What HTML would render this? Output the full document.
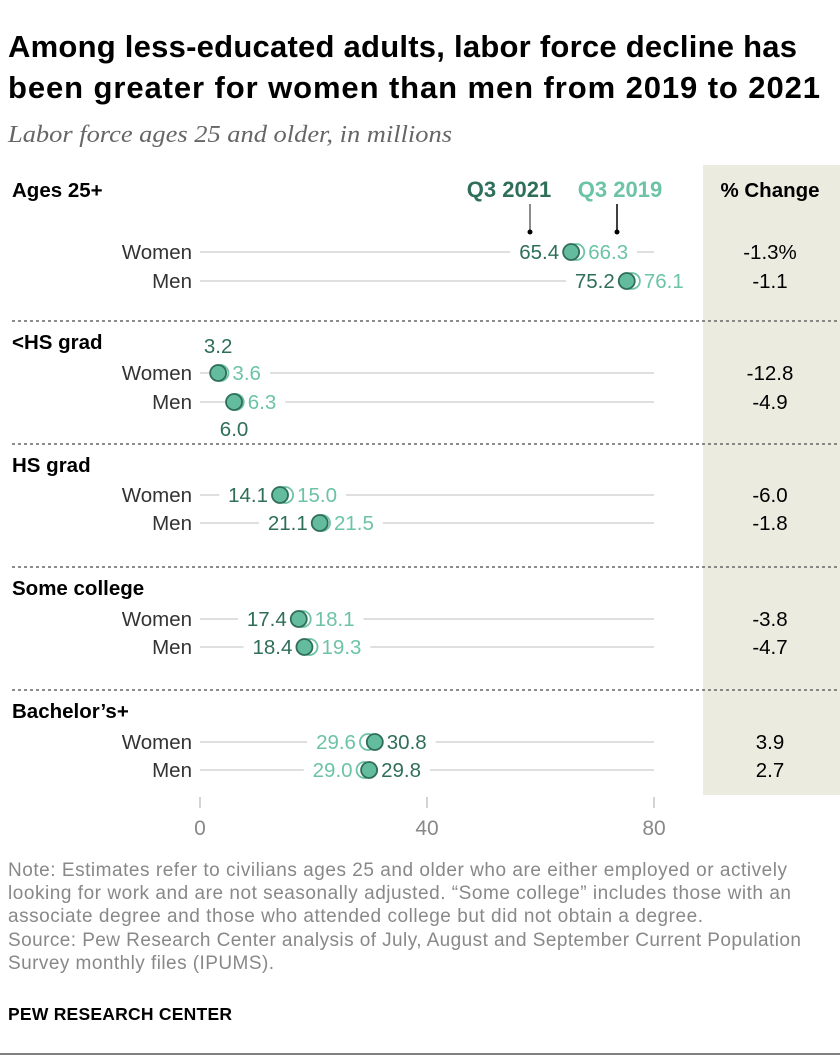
<!DOCTYPE html>
<html><head><meta charset="utf-8"><style>
body{margin:0;background:#fff;font-family:"Liberation Sans",Arial,sans-serif;}
#c{position:relative;width:840px;height:1058px;overflow:hidden}
</style></head><body>
<div id="c">
<svg id="s" width="840" height="1058" font-family="Liberation Sans, Arial, sans-serif">
<text x="8" y="57" font-size="31" font-weight="bold" fill="#000" textLength="789">Among less-educated adults, labor force decline has</text>
<text x="8" y="98" font-size="31" font-weight="bold" fill="#000" textLength="812">been greater for women than men from 2019 to 2021</text>
<text x="8" y="142" font-size="24" font-style="italic" font-family="Liberation Serif, serif" fill="#666" textLength="444" lengthAdjust="spacingAndGlyphs">Labor force ages 25 and older, in millions</text>
<rect x="703" y="165" width="137" height="630" fill="#ecebe0"/>
<text x="770" y="197" font-size="20.5" font-weight="bold" text-anchor="middle" fill="#000">% Change</text>
<text x="509" y="197" font-size="22" font-weight="bold" text-anchor="middle" fill="#2e6e5a">Q3 2021</text>
<text x="620" y="197" font-size="22" font-weight="bold" text-anchor="middle" fill="#6cc3a6">Q3 2019</text>
<line x1="530" y1="204" x2="530" y2="231" stroke="#666" stroke-width="1.5"/>
<circle cx="530" cy="232" r="2.5" fill="#000"/>
<line x1="617" y1="204" x2="617" y2="231" stroke="#000" stroke-width="1.5"/>
<circle cx="617" cy="232" r="2.5" fill="#000"/>
<g id="g"></g>
<text x="8" y="876" font-size="19" fill="#888" textLength="779">Note: Estimates refer to civilians ages 25 and older who are either employed or actively</text>
<text x="8" y="899" font-size="19" fill="#888" textLength="783">looking for work and are not seasonally adjusted. “Some college” includes those with an</text>
<text x="8" y="922" font-size="19" fill="#888" textLength="695">associate degree and those who attended college but did not obtain a degree.</text>
<text x="8" y="946" font-size="19" fill="#888" textLength="793">Source: Pew Research Center analysis of July, August and September Current Population</text>
<text x="8" y="969" font-size="19" fill="#888" textLength="266">Survey monthly files (IPUMS).</text>
<text x="8" y="1020" font-size="17.5" font-weight="bold" fill="#000" textLength="224">PEW RESEARCH CENTER</text>
<line x1="0" y1="1054" x2="840" y2="1054" stroke="#000" stroke-width="1"/>
</svg>
</div>
<script>
const groups=["Ages 25+","<HS grad","HS grad","Some college","Bachelor’s+"];
const sexes=["Women","Men"];
const v2019=[66.3,76.1,3.6,6.3,15.0,21.5,18.1,19.3,29.6,29.0];
const v2021=[65.4,75.2,3.2,6.0,14.1,21.1,17.4,18.4,30.8,29.8];
const changes=["-1.3%","-1.1","-12.8","-4.9","-6.0","-1.8","-3.8","-4.7","3.9","2.7"];
const ticks=[0,40,80];
const NS="http://www.w3.org/2000/svg";
const g=document.getElementById('g');
const x=v=>200+v*5.675;
const headerY=[190,342,465,588,711];
const rowY=[252,281,373,402,495,523,619,647,742,770];
function mk(t,a){const e=document.createElementNS(NS,t);for(const k in a)e.setAttribute(k,a[k]);g.appendChild(e);return e;}
function txt(xx,yy,s,fill,anchor,size,weight){const e=mk('text',{x:xx,y:yy,fill:fill,'text-anchor':anchor,'font-size':size||20});if(weight)e.setAttribute('font-weight',weight);e.textContent=s;return e;}
function lbl(xx,yy,s,fill,anchor){
  const w=s.length*11.2;const lx=anchor==='end'?xx-w:xx;
  const r=mk('rect',{x:lx-4,y:yy-15,width:w+8,height:20,fill:'#fff'});
  
  const t=txt(xx,yy,s,fill,anchor,20.5);
  
}
groups.forEach((gr,i)=>{
  const t=txt(12,headerY[i]+7,gr,'#000','start',20.5,'bold');
  
  if(i>0){const d=mk('line',{x1:12,x2:840,y1:headerY[i]-21,y2:headerY[i]-21,stroke:'#666','stroke-dasharray':'3,3','stroke-width':1.5});
  }
});
ticks.forEach(tv=>{
  const l=mk('line',{x1:x(tv),x2:x(tv),y1:797,y2:808,stroke:'#aaa'});
  
  const t=txt(x(tv),835,String(tv),'#888','middle',21);
  
});
const DARK='#2e6e5a',LIGHT='#6cc3a6';
v2019.forEach((a,k)=>{
  const b=v2021[k],y=rowY[k];
  const sl=txt(192,y+7,sexes[k%2],'#333','end',20.5);
  
  const ln=mk('line',{x1:200,x2:654,y1:y,y2:y,stroke:'#ccc','stroke-width':1.2});
  
  const fmt=v=>v.toFixed(1);
  if(Math.floor(k/2)===1){
    lbl(x(a)+12,y+7,fmt(a),LIGHT,'start');
    const t=txt(x(b),y+(k%2===0?-20:34),fmt(b),DARK,'middle',20.5);
    
  } else if(b<a){
    lbl(x(b)-12,y+7,fmt(b),DARK,'end');lbl(x(a)+12,y+7,fmt(a),LIGHT,'start');
  } else {
    lbl(x(a)-12,y+7,fmt(a),LIGHT,'end');lbl(x(b)+12,y+7,fmt(b),DARK,'start');
  }
  const c1=mk('circle',{cx:x(a),cy:y,r:8,fill:'#fff',stroke:LIGHT,'stroke-width':1.8});
  
  const c2=mk('circle',{cx:x(b),cy:y,r:8,fill:'#64bc9e',stroke:DARK,'stroke-width':1.8});
  
  const ct=txt(770,y+7,changes[k],'#000','middle',20.5);
  
});
</script>
</body></html>
